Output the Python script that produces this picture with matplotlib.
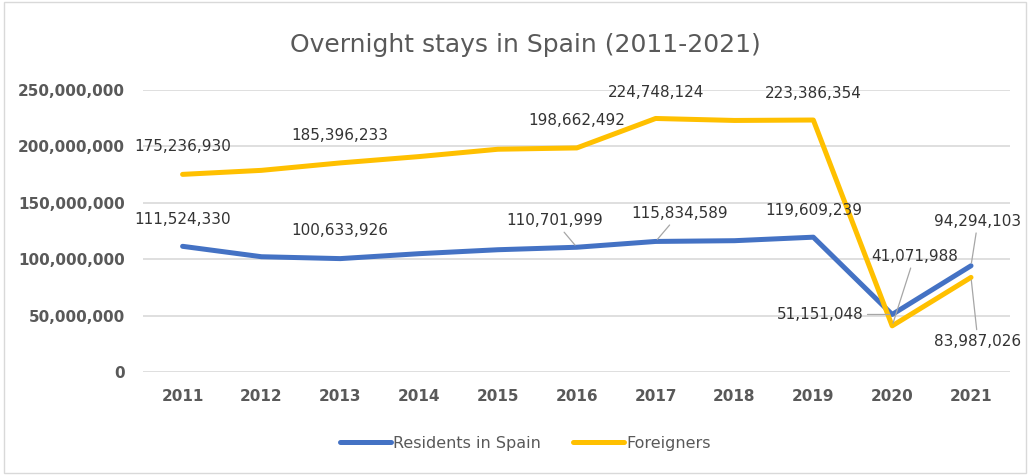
#!/usr/bin/env python3

# Overnight stays in Spain, residents vs foreigners (Excel-style line chart).
import matplotlib
matplotlib.use("Agg")
import matplotlib.pyplot as plt
from matplotlib.ticker import FuncFormatter
from matplotlib.patches import Rectangle

Years = ["2011", "2012", "2013", "2014", "2015", "2016", "2017", "2018", "2019", "2020", "2021"]
Residents = [111524330, 102300000, 100633926, 105000000, 108500000, 110701999,
             115834589, 116500000, 119609239, 51151048, 94294103]
Foreigners = [175236930, 178800000, 185396233, 191000000, 197500000, 198662492,
              224748124, 223000000, 223386354, 41071988, 83987026]

# Which points get a label: index -> (dx, dy, leader) offset in points.
ResLabels = {0: (0, 19, False), 2: (0, 20, False), 5: (-16, 19, True), 6: (17, 20, True),
             8: (0, 19, False), 9: (-52, 0, True), 10: (5, 32, True)}
ForLabels = {0: (0, 20, False), 2: (0, 20, False), 5: (0, 20, False), 6: (0, 19, False),
             8: (0, 19, False), 9: (16, 50, True), 10: (5, -46, True)}

Blue = "#4472C4"
Gold = "#FFC000"
Grey = "#595959"

plt.rcParams["font.family"] = "DejaVu Sans"

Fig = plt.figure(figsize=(10.3, 4.76), dpi=100)
Ax = Fig.add_axes([0.139, 0.218, 0.842, 0.593])

X = list(range(len(Years)))
Ax.plot(X, Residents, color=Blue, lw=3.6, solid_capstyle="round", label="Residents in Spain", zorder=3)
Ax.plot(X, Foreigners, color=Gold, lw=3.6, solid_capstyle="round", label="Foreigners", zorder=3)

Ax.set_xlim(-0.5, len(Years) - 0.5)
Ax.set_ylim(0, 250000000)
Ax.set_yticks(range(0, 250000001, 50000000))
Ax.yaxis.set_major_formatter(FuncFormatter(lambda v, p: f"{int(v):,}"))
Ax.set_xticks(X)
Ax.set_xticklabels(Years)
Ax.tick_params(length=0, labelsize=11, labelcolor=Grey)
Ax.tick_params(axis="x", pad=12)
Ax.tick_params(axis="y", pad=13)
for Label in Ax.get_xticklabels() + Ax.get_yticklabels():
    Label.set_fontweight("bold")
Ax.grid(axis="y", color="#D9D9D9", lw=1.2)
Ax.set_axisbelow(True)
for Side in Ax.spines.values():
    Side.set_visible(False)


def add_labels(Values, Labels):
    for I, (Dx, Dy, Leader) in Labels.items():
        Props = dict(arrowstyle="-", color="#A6A6A6", lw=0.9, shrinkA=1, shrinkB=2) if Leader else None
        Ax.annotate(f"{Values[I]:,}", xy=(I, Values[I]), xytext=(Dx, Dy), textcoords="offset points",
                    ha="center", va="center", fontsize=11, color="#333333", arrowprops=Props, zorder=4)


add_labels(Residents, ResLabels)
add_labels(Foreigners, ForLabels)

Fig.text(0.51, 0.905, "Overnight stays in Spain (2011-2021)", ha="center", va="center",
         fontsize=18, color=Grey)

Leg = Fig.legend(loc="center", bbox_to_anchor=(0.51, 0.069), ncol=2, frameon=False,
                 fontsize=11.5, handlelength=3.2, handletextpad=0.15, columnspacing=2.0)
for Text in Leg.get_texts():
    Text.set_color(Grey)

Fig.patches.append(Rectangle((0.004, 0.006), 0.992, 0.99, transform=Fig.transFigure,
                             fill=False, edgecolor="#D9D9D9", lw=1))

Fig.savefig("out.png", dpi=100)
